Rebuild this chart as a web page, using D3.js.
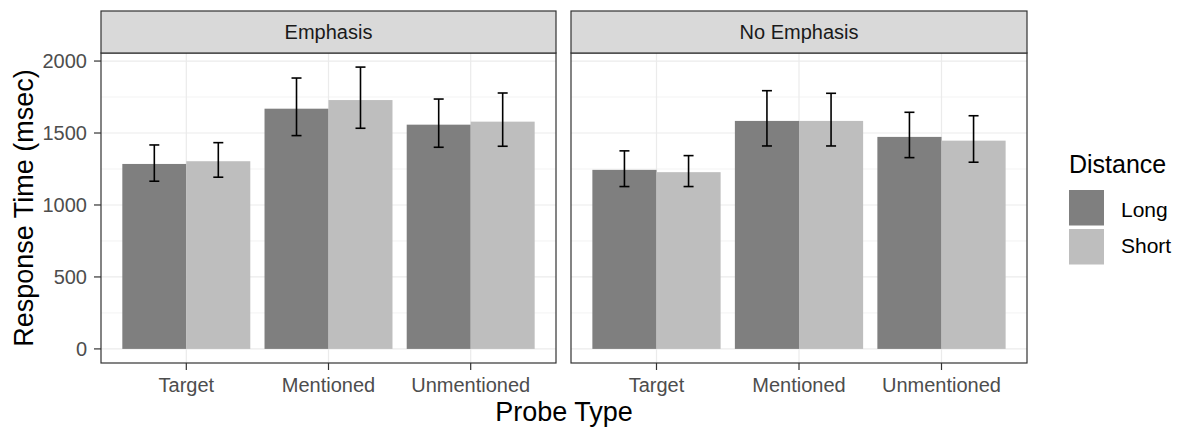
<!DOCTYPE html>
<html>
<head>
<meta charset="utf-8">
<script src="https://cdn.jsdelivr.net/npm/d3@7"></script>
<style>
  body { margin: 0; background: #fff; }
  svg text { font-family: "Liberation Sans", Arial, sans-serif; }
</style>
</head>
<body>
<div id="chart"></div>
<script>
// Probe response times, faceted by emphasis
const panels = ['Emphasis', 'No Emphasis'];
const probeTypes = ['Target', 'Mentioned', 'Unmentioned'];
const distances = ['Long', 'Short'];
const yTicks = [0, 500, 1000, 1500, 2000];

// mean, lower and upper error bound, per panel -> [probe][distance]
const meanEmph = [[1285, 1304], [1669, 1729], [1558, 1579]];
const lowEmph = [[1165, 1193], [1482, 1533], [1401, 1408]];
const highEmph = [[1417, 1433], [1882, 1958], [1736, 1778]];
const meanNoEmph = [[1244, 1228], [1584, 1584], [1473, 1447]];
const lowNoEmph = [[1128, 1128], [1410, 1410], [1329, 1297]];
const highNoEmph = [[1376, 1343], [1794, 1776], [1644, 1620]];

const colors = { Long: '#7f7f7f', Short: '#bebebe' };

const width = 1180, height = 428;
const svg = d3.select('#chart').append('svg')
  .attr('width', width).attr('height', height);

const panelTop = 53, panelBottom = 363;
const stripTop = 11;
const panelX = [[101, 556], [571, 1027]];

const yMax = 1958;
const y = d3.scaleLinear()
  .domain([-0.05 * yMax, 1.05 * yMax])
  .range([panelBottom, panelTop]);

const dataSets = [
  { mean: meanEmph, low: lowEmph, high: highEmph },
  { mean: meanNoEmph, low: lowNoEmph, high: highNoEmph }
];

panels.forEach((name, pi) => {
  const [x0, x1] = panelX[pi];
  // discrete axis with ggplot's 0.6 expansion
  const x = d3.scaleLinear().domain([0.4, 3.6]).range([x0, x1]);
  const unit = x(2) - x(1);
  const g = svg.append('g');

  // minor grid
  const minor = d3.range(250, 2000, 500);
  g.selectAll('.ymin').data(minor).enter().append('line')
    .attr('x1', x0).attr('x2', x1)
    .attr('y1', d => y(d)).attr('y2', d => y(d))
    .attr('stroke', '#ebebeb').attr('stroke-width', 0.6);
  // major grid
  g.selectAll('.ymaj').data(yTicks).enter().append('line')
    .attr('x1', x0).attr('x2', x1)
    .attr('y1', d => y(d)).attr('y2', d => y(d))
    .attr('stroke', '#ebebeb').attr('stroke-width', 1.2);
  g.selectAll('.xmaj').data(probeTypes).enter().append('line')
    .attr('x1', (d, i) => x(i + 1)).attr('x2', (d, i) => x(i + 1))
    .attr('y1', panelTop).attr('y2', panelBottom)
    .attr('stroke', '#ebebeb').attr('stroke-width', 1.2);

  const ds = dataSets[pi];
  const bars = [];
  probeTypes.forEach((p, i) => {
    distances.forEach((dist, j) => {
      bars.push({
        cx: i + 1 + (j === 0 ? -0.225 : 0.225),
        dist: dist,
        mean: ds.mean[i][j], low: ds.low[i][j], high: ds.high[i][j]
      });
    });
  });

  g.selectAll('.bar').data(bars).enter().append('rect')
    .attr('x', d => x(d.cx - 0.225))
    .attr('width', unit * 0.45)
    .attr('y', d => y(d.mean))
    .attr('height', d => y(0) - y(d.mean))
    .attr('fill', d => colors[d.dist]);

  // error bars
  const cap = 5;
  const eb = g.selectAll('.eb').data(bars).enter().append('g')
    .attr('stroke', '#000').attr('stroke-width', 1.6);
  eb.append('line')
    .attr('x1', d => x(d.cx)).attr('x2', d => x(d.cx))
    .attr('y1', d => y(d.low)).attr('y2', d => y(d.high));
  eb.append('line')
    .attr('x1', d => x(d.cx) - cap).attr('x2', d => x(d.cx) + cap)
    .attr('y1', d => y(d.low)).attr('y2', d => y(d.low));
  eb.append('line')
    .attr('x1', d => x(d.cx) - cap).attr('x2', d => x(d.cx) + cap)
    .attr('y1', d => y(d.high)).attr('y2', d => y(d.high));

  // panel border
  g.append('rect')
    .attr('x', x0).attr('y', panelTop)
    .attr('width', x1 - x0).attr('height', panelBottom - panelTop)
    .attr('fill', 'none').attr('stroke', '#333').attr('stroke-width', 1.2);

  // strip
  g.append('rect')
    .attr('x', x0).attr('y', stripTop)
    .attr('width', x1 - x0).attr('height', panelTop - stripTop)
    .attr('fill', '#d9d9d9').attr('stroke', '#333').attr('stroke-width', 1.2);
  g.append('text')
    .attr('x', (x0 + x1) / 2).attr('y', (stripTop + panelTop) / 2)
    .attr('dy', '0.36em').attr('text-anchor', 'middle')
    .attr('font-size', 20).attr('fill', '#1a1a1a')
    .text(name);

  // x axis ticks and labels
  g.selectAll('.xt').data(probeTypes).enter().append('line')
    .attr('x1', (d, i) => x(i + 1)).attr('x2', (d, i) => x(i + 1))
    .attr('y1', panelBottom).attr('y2', panelBottom + 7)
    .attr('stroke', '#333').attr('stroke-width', 1.2);
  g.selectAll('.xl').data(probeTypes).enter().append('text')
    .attr('x', (d, i) => x(i + 1)).attr('y', panelBottom + 29)
    .attr('text-anchor', 'middle')
    .attr('font-size', 20).attr('fill', '#4d4d4d')
    .text(d => d);

  if (pi === 0) {
    g.selectAll('.yt').data(yTicks).enter().append('line')
      .attr('x1', x0 - 7).attr('x2', x0)
      .attr('y1', d => y(d)).attr('y2', d => y(d))
      .attr('stroke', '#333').attr('stroke-width', 1.2);
    g.selectAll('.yl').data(yTicks).enter().append('text')
      .attr('x', x0 - 14).attr('y', d => y(d))
      .attr('dy', '0.36em').attr('text-anchor', 'end')
      .attr('font-size', 20).attr('fill', '#4d4d4d')
      .text(d => d);
  }
});

// axis titles
svg.append('text')
  .attr('x', (panelX[0][0] + panelX[1][1]) / 2).attr('y', 421)
  .attr('text-anchor', 'middle')
  .attr('font-size', 27).attr('fill', '#000')
  .text('Probe Type');
svg.append('text')
  .attr('transform', `translate(33, ${(panelTop + panelBottom) / 2}) rotate(-90)`)
  .attr('text-anchor', 'middle')
  .attr('font-size', 27).attr('fill', '#000')
  .text('Response Time (msec)');

// legend
const legend = svg.append('g').attr('transform', 'translate(1069, 0)');
legend.append('text')
  .attr('x', 0).attr('y', 173)
  .attr('font-size', 25).attr('fill', '#000')
  .text('Distance');
distances.forEach((d, i) => {
  legend.append('rect')
    .attr('x', 0).attr('y', 190 + i * 39)
    .attr('width', 35).attr('height', 35.5)
    .attr('fill', colors[d]);
  legend.append('text')
    .attr('x', 52).attr('y', 217 + i * 36)
    .attr('font-size', 21).attr('fill', '#000')
    .text(d);
});
</script>
</body>
</html>
